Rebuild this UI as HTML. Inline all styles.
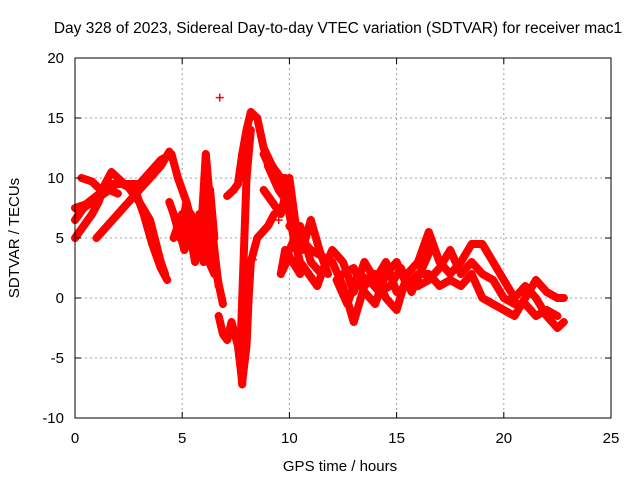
<!DOCTYPE html>
<html><head><meta charset="utf-8"><style>
body{margin:0;background:#fff}
svg{display:block;font-family:"Liberation Sans",sans-serif;font-size:14px}
</style></head><body>
<svg id="chart" width="640" height="480">
<text x="338" y="33" text-anchor="middle" font-size="15.5">Day 328 of 2023, Sidereal Day-to-day VTEC variation (SDTVAR) for receiver mac1</text>
<g id="grid"></g>
<g id="series"></g>
<rect x="75" y="58" width="536" height="360" fill="none" stroke="#000" stroke-width="1"/>
<g id="axes"></g>
<text x="340" y="471" text-anchor="middle" font-size="15">GPS time / hours</text>
<text transform="translate(19,238) rotate(-90)" text-anchor="middle" font-size="15">SDTVAR / TECUs</text>
</svg>
<script>
const xTicks=[0,5,10,15,20,25];
const yTicks=[-10,-5,0,5,10,15,20];
const trackA=[[0,5],[0.4,6],[0.8,7],[1.1,8],[1.4,9.5],[1.7,10.5],[2.0,10],[2.5,9.2],[3,8],[3.5,6.5],[4,3],[4.2,2]];
const trackB=[[0,7.5],[0.5,7.8],[1,8.5],[1.5,9.2],[2,9.5],[2.5,9.5],[3,9.5],[3.5,10.5],[4,11.5],[4.5,12],[4.8,10],[5.2,8],[5.5,6],[6,4],[6.5,2]];
const trackC=[[1.0,5],[1.5,6],[2,7],[2.5,8],[3,9],[3.5,10],[4,11],[4.4,12.2]];
const trackD=[[0.3,10],[0.8,9.7],[1.2,9],[1.7,9.5],[2.2,9.5],[2.8,9],[3.2,7],[3.6,4.5],[4,2.5],[4.3,1.5]];
const trackE=[[4.4,8],[4.8,6],[5.1,4],[5.4,7],[5.7,5],[6.0,3],[6.3,5],[6.6,2],[6.9,-0.5]];
const trackF=[[4.6,5],[5.0,7],[5.3,6],[5.6,3],[5.9,6],[6.1,12],[6.3,8],[6.5,4],[6.7,1]];
const trackG=[[6.7,-1.5],[6.9,-3],[7.1,-3.5],[7.3,-2],[7.6,-4],[7.8,-7],[8.0,-4],[8.1,0],[8.2,3],[8.5,5],[9,6],[9.3,7]];
const trackH=[[7.1,8.5],[7.4,9],[7.6,9.5],[7.8,12],[8.0,14],[8.2,15.5],[8.5,15],[8.8,12.5],[9.2,11],[9.6,10],[10,8],[10.3,5]];
const trackI=[[8.2,14],[8.0,10],[7.9,5],[7.8,0],[7.7,-5],[7.8,-7.2]];
const trackJ=[[8.8,12],[9.3,10],[9.8,10],[10.2,7],[10.5,2],[9.8,4],[9.6,2],[10,3.5]];
const trackK=[[10,6],[10.5,5],[11,4],[11.5,3.5],[12,3],[12.5,1],[13,-2],[13.5,1],[14,2],[14.5,0],[15,-1],[15.5,2],[16,3],[16.5,5.5],[17,3],[17.5,2],[18,3],[18.5,4.5],[19,4.5],[19.5,3],[20,1.5],[20.5,0],[21,1],[21.5,0],[22,-1.5],[22.5,-2.5],[22.8,-2]];
const trackL=[[10,4],[10.5,6],[11,3],[11.5,2],[12,4],[12.5,3],[13,0.5],[13.5,3],[14,1.5],[14.5,3],[15,0.5],[15.5,1],[16,2],[16.5,2],[17,1],[17.5,1.5],[18,1],[18.5,2],[19,0],[19.5,-0.5],[20,-1],[20.5,-1.5],[21,0],[21.5,1.5],[22,0.5],[22.5,0],[22.8,0]];
const trackM=[[12.5,2],[13,2.5],[13.5,0.5],[14,-0.5],[14.5,2],[15,3],[15.5,1],[16,1],[16.5,1.5],[17,2.5],[17.5,4],[18,2],[18.5,3],[19,2],[19.5,1.5],[20,0],[20.5,-0.5],[21,-0.5],[21.5,-1.5],[22,-1],[22.5,-1.5]];
const trackN=[[4.6,7],[4.9,5],[5.2,8],[5.5,4],[5.8,7],[6.0,3],[6.3,9],[6.5,5]];
const trackO=[[8.8,9],[9.2,8],[9.6,7],[10,10],[10.3,6],[10.6,4],[11,6.5],[11.4,4],[11.8,2]];
const trackP=[[0,6.5],[0.4,7.5],[0.8,8],[1.2,8.5],[1.6,9],[2,8.7]];
const trackQ=[[9.0,11],[9.5,9],[9.9,8],[10.2,5],[10.5,3],[10.9,2],[11.3,1],[11.7,3]];
const trackR=[[12.2,1.5],[12.7,-0.5],[13.2,2],[13.7,1.5],[14.2,0.5],[14.7,1],[15.2,2.5],[15.7,0.5],[16.2,2.5],[16.7,4.5]];
const outliers=[[6.75,16.7],[8.3,3.2],[9.5,6.5]];
const tracks=[trackA,trackB,trackC,trackD,trackE,trackF,trackG,trackH,trackI,trackJ,trackK,trackL,trackM,trackN,trackO,trackP,trackQ,trackR];

const NS="http://www.w3.org/2000/svg";
const X=t=>75+t*536/25;
const Y=v=>298-v*12;
const grid=document.getElementById('grid'),axes=document.getElementById('axes'),ser=document.getElementById('series');
function mk(tag,attrs,parent){const e=document.createElementNS(NS,tag);for(const k in attrs)e.setAttribute(k,attrs[k]);parent.appendChild(e);return e;}
xTicks.forEach(t=>{
  if(t>0&&t<25){const g=mk('line',{x1:X(t),x2:X(t),y1:58,y2:418,stroke:'#a0a0a0','stroke-dasharray':'2,3'},grid);
  
  }
  mk('line',{x1:X(t),x2:X(t),y1:418,y2:412,stroke:'#000'},axes);
  mk('line',{x1:X(t),x2:X(t),y1:58,y2:64,stroke:'#000'},axes);
  const l=mk('text',{x:X(t),y:443,'text-anchor':'middle','font-size':15},axes);l.textContent=t;
  
  
});
yTicks.forEach(v=>{
  if(v>-10&&v<20){const g=mk('line',{x1:75,x2:611,y1:Y(v),y2:Y(v),stroke:'#a0a0a0','stroke-dasharray':'2,3'},grid);
  
  }
  mk('line',{x1:75,x2:81,y1:Y(v),y2:Y(v),stroke:'#000'},axes);
  mk('line',{x1:605,x2:611,y1:Y(v),y2:Y(v),stroke:'#000'},axes);
  const l=mk('text',{x:64,y:Y(v)+5,'text-anchor':'end','font-size':15},axes);l.textContent=v;
  
  
});
function plus(t,v){
  const p=mk('path',{d:`M${X(t)-4},${Y(v)}h8M${X(t)},${Y(v)-4}v8`,stroke:'#f00','stroke-width':1.5},ser);
  
  
}
tracks.forEach(tr=>{
  const pl=mk('polyline',{points:tr.map(p=>X(p[0])+','+Y(p[1])).join(' '),fill:'none',stroke:'#f00','stroke-width':8,'stroke-linejoin':'round','stroke-linecap':'round'},ser);
  
  
  tr.forEach(p=>plus(p[0],p[1]));
});
outliers.forEach(p=>plus(p[0],p[1]));
</script>
</body></html>
